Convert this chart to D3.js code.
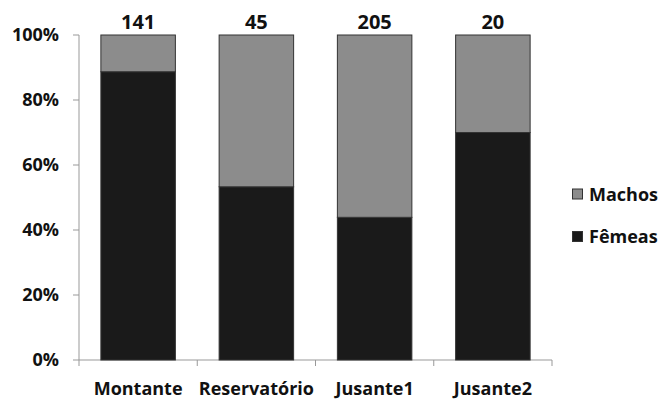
<!DOCTYPE html>
<html><head><meta charset="utf-8">
<script src="https://cdn.jsdelivr.net/npm/d3@7"></script>
<style>body{margin:0;background:#fff;} text{font-family:"Open Sans",Lato,sans-serif;font-weight:bold;fill:#111;}</style>
</head><body><svg id="c" width="659" height="399"></svg>
<script>
const categories = ["Montante","Reservatório","Jusante1","Jusante2"];
const femeas = [0.887, 0.533, 0.439, 0.70];
const machos = [0.113, 0.467, 0.561, 0.30];
const totals = [141, 45, 205, 20];
const yTicks = [0,0.2,0.4,0.6,0.8,1.0];
const seriesNames = ["Machos","Fêmeas"];
const colors = {"Fêmeas":"#1a1a1a","Machos":"#8c8c8c"};

const svg = d3.select("#c");
const m = {l:79, r:107, t:35, b:39};
const xRight = 552;
const x = d3.scaleBand().domain(categories).range([m.l, xRight]).paddingInner(0.37).paddingOuter(0.185);
const y = d3.scaleLinear().domain([0,1]).range([360, 35]);

// y axis
svg.append("line").attr("x1",m.l).attr("x2",m.l).attr("y1",y(0)).attr("y2",y(1)).attr("stroke","#999");
yTicks.forEach(t=>{
  svg.append("line").attr("x1",m.l-6).attr("x2",m.l).attr("y1",y(t)).attr("y2",y(t)).attr("stroke","#999");
  svg.append("text").attr("x",m.l-20).attr("y",y(t)).attr("dy","0.36em").attr("text-anchor","end")
    .attr("font-size",18).text(Math.round(t*100)+"%");
});
// x axis
svg.append("line").attr("x1",m.l).attr("x2",xRight).attr("y1",y(0)).attr("y2",y(0)).attr("stroke","#999");
for(let i=0;i<=categories.length;i++){
  const xx = m.l + i*(xRight-m.l)/categories.length;
  svg.append("line").attr("x1",xx).attr("x2",xx).attr("y1",y(0)).attr("y2",y(0)+6).attr("stroke","#999");
}
categories.forEach((c,i)=>{
  const cx = x(c)+x.bandwidth()/2;
  svg.append("text").attr("x",cx).attr("y",395).attr("text-anchor","middle").attr("font-size",18).text(c);
  svg.append("rect").attr("x",x(c)).attr("width",x.bandwidth())
    .attr("y",y(femeas[i])).attr("height",y(0)-y(femeas[i]))
    .attr("fill",colors["Fêmeas"]).attr("stroke","#333").attr("stroke-width",1);
  svg.append("rect").attr("x",x(c)).attr("width",x.bandwidth())
    .attr("y",y(femeas[i]+machos[i])).attr("height",y(femeas[i])-y(femeas[i]+machos[i]))
    .attr("fill",colors["Machos"]).attr("stroke","#333").attr("stroke-width",1);
  svg.append("text").attr("x",cx).attr("y",29).attr("text-anchor","middle").attr("font-size",20).text(totals[i]);
});
// legend
seriesNames.forEach((s,i)=>{
  const ly = 194.5 + i*42.5;
  svg.append("rect").attr("x",572.5).attr("y",ly-5.5).attr("width",10).attr("height",10)
    .attr("fill",colors[s]).attr("stroke","#333");
  svg.append("text").attr("x",589).attr("y",ly).attr("dy","0.36em").attr("font-size",18).text(s);
});
</script></body></html>
